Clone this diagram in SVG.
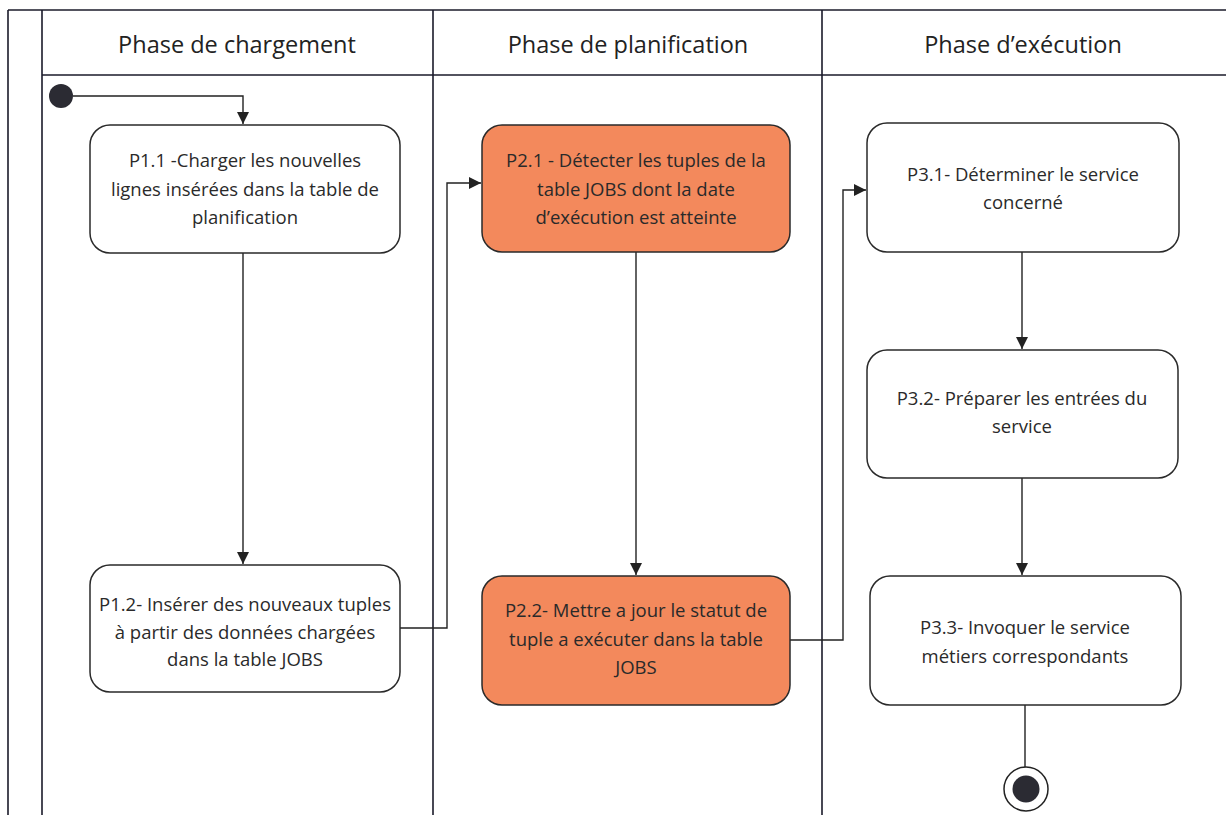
<svg xmlns="http://www.w3.org/2000/svg" width="1226" height="815" viewBox="0 0 1226 815">
  <style>
    .lane { stroke: #1a1a2a; stroke-width: 1.6; fill: none; }
    .hdr { font-family: "Open Sans", "Liberation Sans", sans-serif; font-size: 23.5px; fill: #222; text-anchor: middle; }
    .act { stroke: #2a2a2a; stroke-width: 1.5; }
    .plain { fill: #ffffff; }
    .hot { fill: #f3895c; }
    .lbl { font-family: "Open Sans", "Liberation Sans", sans-serif; font-size: 18.5px; fill: #2a2a2a; text-anchor: middle; }
    .flow { stroke: #222; stroke-width: 1.4; fill: none; }
  </style>
  <defs>
    <marker id="arrow" viewBox="0 0 10 10" refX="10" refY="5" markerWidth="12" markerHeight="12" markerUnits="userSpaceOnUse" orient="auto">
      <path d="M0,0 L10,5 L0,10 Z" fill="#222"/>
    </marker>
  </defs>

  <rect width="1226" height="815" fill="#ffffff"/>

  <!-- swimlane frame -->
  <g id="lanes">
    <line class="lane" x1="8" y1="10" x2="1226" y2="10"/>
    <line class="lane" x1="8" y1="10" x2="8" y2="815"/>
    <line class="lane" x1="42" y1="10" x2="42" y2="815"/>
    <line class="lane" x1="433" y1="10" x2="433" y2="815"/>
    <line class="lane" x1="822" y1="10" x2="822" y2="815"/>
    <line class="lane" x1="42" y1="75" x2="1226" y2="75"/>
    <text class="hdr" x="237" y="53">Phase de chargement</text>
    <text class="hdr" x="628" y="53">Phase de planification</text>
    <text class="hdr" x="1023" y="53">Phase d’exécution</text>
  </g>

  <!-- connectors -->
  <g id="connectors">
    <polyline class="flow" points="73,96 243,96 243,124" marker-end="url(#arrow)"/>
    <line class="flow" x1="243" y1="253" x2="243" y2="564" marker-end="url(#arrow)"/>
    <polyline class="flow" points="400,628 447,628 447,183 481,183" marker-end="url(#arrow)"/>
    <line class="flow" x1="636" y1="252" x2="636" y2="575" marker-end="url(#arrow)"/>
    <polyline class="flow" points="790,640 843,640 843,190 866,190" marker-end="url(#arrow)"/>
    <line class="flow" x1="1022" y1="252" x2="1022" y2="349" marker-end="url(#arrow)"/>
    <line class="flow" x1="1022" y1="478" x2="1022" y2="575" marker-end="url(#arrow)"/>
    <line class="flow" x1="1025" y1="705" x2="1025" y2="767"/>
  </g>

  <g id="start">
    <circle cx="61" cy="96" r="12" fill="#2b2b33"/>
  </g>

  <g id="p1-1">
    <rect class="act plain" x="90" y="125" width="310" height="128" rx="20"/>
    <text class="lbl" x="245" y="167">P1.1 -Charger les nouvelles</text>
    <text class="lbl" x="245" y="196">lignes insérées dans la table de</text>
    <text class="lbl" x="245" y="224">planification</text>
  </g>

  <g id="p1-2">
    <rect class="act plain" x="90" y="565" width="310" height="127" rx="20"/>
    <text class="lbl" x="245" y="611">P1.2- Insérer des nouveaux tuples</text>
    <text class="lbl" x="245" y="639">à partir des données chargées</text>
    <text class="lbl" x="245" y="666">dans la table JOBS</text>
  </g>

  <g id="p2-1">
    <rect class="act hot" x="482" y="125" width="308" height="127" rx="20"/>
    <text class="lbl" x="636" y="167">P2.1 - Détecter les tuples de la</text>
    <text class="lbl" x="636" y="196">table JOBS dont la date</text>
    <text class="lbl" x="636" y="224">d’exécution est atteinte</text>
  </g>

  <g id="p2-2">
    <rect class="act hot" x="482" y="576" width="308" height="129" rx="20"/>
    <text class="lbl" x="636" y="617">P2.2- Mettre a jour le statut de</text>
    <text class="lbl" x="636" y="646">tuple a exécuter dans la table</text>
    <text class="lbl" x="636" y="674">JOBS</text>
  </g>

  <g id="p3-1">
    <rect class="act plain" x="867" y="123" width="312" height="129" rx="20"/>
    <text class="lbl" x="1023" y="181">P3.1- Déterminer le service</text>
    <text class="lbl" x="1023" y="209">concerné</text>
  </g>

  <g id="p3-2">
    <rect class="act plain" x="867" y="350" width="311" height="128" rx="20"/>
    <text class="lbl" x="1022" y="405">P3.2- Préparer les entrées du</text>
    <text class="lbl" x="1022" y="433">service</text>
  </g>

  <g id="p3-3">
    <rect class="act plain" x="870" y="576" width="311" height="129" rx="20"/>
    <text class="lbl" x="1025" y="634">P3.3- Invoquer le service</text>
    <text class="lbl" x="1025" y="663">métiers correspondants</text>
  </g>

  <g id="end">
    <circle cx="1026" cy="789" r="22" fill="#ffffff" stroke="#222" stroke-width="1.5"/>
    <circle cx="1026" cy="789" r="13.5" fill="#2b2b33"/>
  </g>
</svg>
